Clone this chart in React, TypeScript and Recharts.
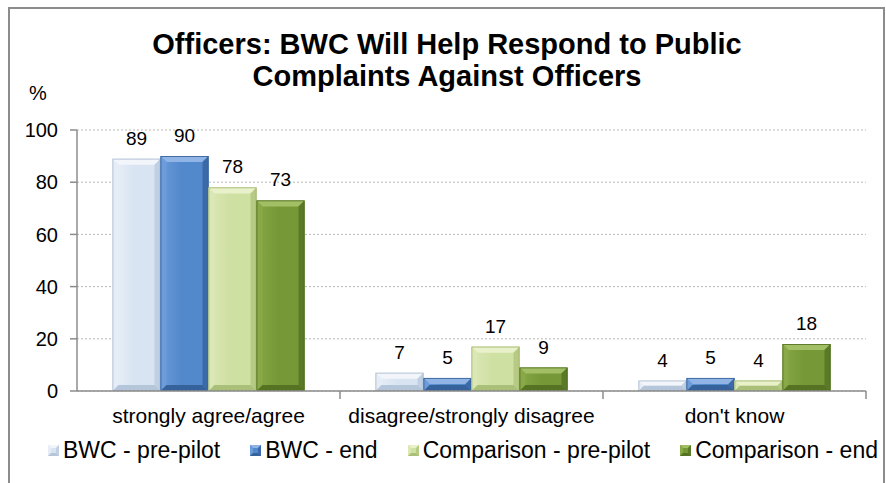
import React from 'react';
import { BarChart, Bar, XAxis, YAxis, CartesianGrid, LabelList, Legend } from 'recharts';

const categories = ['strongly agree/agree', 'disagree/strongly disagree', "don't know"];
const bwcPrePilot = [89, 7, 4];
const bwcEnd = [90, 5, 5];
const comparisonPrePilot = [78, 17, 4];
const comparisonEnd = [73, 9, 18];
const yTicks = [0, 20, 40, 60, 80, 100];
const seriesNames = ['BWC - pre-pilot', 'BWC - end', 'Comparison - pre-pilot', 'Comparison - end'];
const seriesKeys = ['bwcPre', 'bwcEnd', 'compPre', 'compEnd'];

const data = categories.map((c, i) => ({
  category: c,
  bwcPre: bwcPrePilot[i],
  bwcEnd: bwcEnd[i],
  compPre: comparisonPrePilot[i],
  compEnd: comparisonEnd[i],
}));

type Pal = { face: string; faceL: string; top: string; left: string; right: string; bottom: string; edge: string };
const palettes: Record<string, Pal> = {
  bwcPre: { face: '#d9e4f2', faceL: '#e9f0f9', top: '#f2f6fb', left: '#e6edf7', right: '#c0cfe2', bottom: '#b5c5da', edge: '#a9b9ce' },
  bwcEnd: { face: '#5288cc', faceL: '#6a9ad8', top: '#8fb4e5', left: '#6c9cda', right: '#3c6aa8', bottom: '#36629c', edge: '#335d94' },
  compPre: { face: '#cfe0a3', faceL: '#dbe8b6', top: '#e8f1ca', left: '#dbe8b5', right: '#b6ca84', bottom: '#aabf78', edge: '#9fb46e' },
  compEnd: { face: '#779837', faceL: '#86a744', top: '#a3bf66', left: '#89a948', right: '#5b7a27', bottom: '#557323', edge: '#4e6b1f' },
};

const FONT = '"Liberation Sans", Arial, Helvetica, sans-serif';

const makeBevel = (key: string) => (props: any) => {
  const { x, y, width, height } = props;
  const pal = palettes[key];
  if (!height || height <= 0 || !width) return <g />;
  const b = Math.min(6, height / 2, width / 2);
  const gid = `grad-${key}`;
  return (
    <g>
      <defs>
        <linearGradient id={gid} x1="0" y1="0" x2="1" y2="0">
          <stop offset="0%" stopColor={pal.faceL} />
          <stop offset="45%" stopColor={pal.face} />
          <stop offset="100%" stopColor={pal.face} />
        </linearGradient>
      </defs>
      <rect x={x} y={y} width={width} height={height} fill={`url(#${gid})`} />
      <polygon points={`${x},${y} ${x + width},${y} ${x + width - b},${y + b} ${x + b},${y + b}`} fill={pal.top} />
      <polygon points={`${x},${y} ${x + b},${y + b} ${x + b},${y + height - b} ${x},${y + height}`} fill={pal.left} />
      <polygon points={`${x + width},${y} ${x + width},${y + height} ${x + width - b},${y + height - b} ${x + width - b},${y + b}`} fill={pal.right} />
      <polygon points={`${x},${y + height} ${x + b},${y + height - b} ${x + width - b},${y + height - b} ${x + width},${y + height}`} fill={pal.bottom} />
      <rect x={x + 0.4} y={y + 0.4} width={width - 0.8} height={height - 0.8} fill="none" stroke={pal.edge} strokeWidth={0.8} />
    </g>
  );
};

const XTick = (props: any) => {
  const { x, y, payload } = props;
  const off = typeof payload?.offset === 'number' && payload.offset > 0 ? payload.offset : 131.5;
  return (
    <g>
      <line x1={x + off} x2={x + off} y1={y} y2={y + 8} stroke="#8c8c8c" strokeWidth={1.5} />
      <text x={x} y={y + 32} textAnchor="middle" fontSize={21} fill="#000" fontFamily={FONT}>
        {payload.value}
      </text>
    </g>
  );
};

const LegendSwatch = ({ k }: { k: string }) => {
  const p = palettes[k];
  return (
    <svg width={11} height={11} style={{ display: 'block', marginRight: 4 }}>
      <rect x={0} y={0} width={11} height={11} fill={p.face} />
      <polygon points="0,0 11,0 8,3 3,3" fill={p.top} />
      <polygon points="0,0 3,3 3,8 0,11" fill={p.left} />
      <polygon points="11,0 11,11 8,8 8,3" fill={p.right} />
      <polygon points="0,11 3,8 8,8 11,11" fill={p.bottom} />
    </svg>
  );
};

const LegendContent = () => {
  return (
    <div style={{ display: 'flex', alignItems: 'center', justifyContent: 'space-between', width: '100%', fontFamily: FONT, fontSize: 23, lineHeight: '27px', color: '#000' }}>
      {seriesKeys.map((k, i) => (
        <div key={k} style={{ display: 'flex', alignItems: 'center', whiteSpace: 'nowrap' }}>
          <LegendSwatch k={k} />
          <span>{seriesNames[i]}</span>
        </div>
      ))}
    </div>
  );
};

export default function App() {
  return (
    <div style={{ position: 'absolute', left: 0, top: 0, width: 886, height: 483, background: '#fff', overflow: 'hidden', fontFamily: FONT }}>
      <div style={{ position: 'absolute', left: 8, top: 7, width: 877, height: 520, border: '2px solid #8c8c8c', boxSizing: 'border-box' }} />
      <div style={{ position: 'absolute', left: 0, top: 28, width: 894, textAlign: 'center', fontWeight: 'bold', fontSize: 29, lineHeight: '32px', color: '#000' }}>
        Officers: BWC Will Help Respond to Public
        <br />
        Complaints Against Officers
      </div>
      <div style={{ position: 'absolute', left: 0, top: 0 }}>
        <BarChart width={886} height={483} data={data} margin={{ top: 130, right: 20, bottom: 62, left: 0 }} barCategoryGap="13.5%" barGap={0}>
          <CartesianGrid vertical={false} stroke="#b8b8b8" strokeDasharray="2 2" />
          <XAxis
            dataKey="category"
            interval={0}
            height={30}
            tickSize={0}
            tickMargin={0}
            tickLine={false}
            axisLine={{ stroke: '#8c8c8c', strokeWidth: 1.5 }}
            tick={<XTick />}
          />
          <YAxis
            domain={[0, 100]}
            ticks={yTicks}
            width={77}
            tickSize={7}
            tickMargin={12}
            axisLine={{ stroke: '#8c8c8c', strokeWidth: 1.5 }}
            tickLine={{ stroke: '#8c8c8c', strokeWidth: 1.5 }}
            tick={{ fontSize: 20, fill: '#000', fontFamily: FONT }}
            label={{
              content: (p: any) => (
                <text x={38} y={(p?.viewBox?.y ?? 130) - 30} textAnchor="middle" fontSize={20} fill="#000" fontFamily={FONT}>
                  %
                </text>
              ),
            }}
          />
          <Legend
            layout="horizontal"
            verticalAlign="middle"
            align="center"
            wrapperStyle={{ position: 'absolute', left: 48, top: 437, width: 830, height: 28 }}
            content={<LegendContent />}
          />
          {seriesKeys.map((k, i) => (
            <Bar key={k} dataKey={k} name={seriesNames[i]} fill={palettes[k].face} isAnimationActive={false} shape={makeBevel(k)}>
              <LabelList dataKey={k} position="top" offset={14} fontSize={19} fill="#000" fontFamily={FONT} />
            </Bar>
          ))}
        </BarChart>
      </div>
    </div>
  );
}
